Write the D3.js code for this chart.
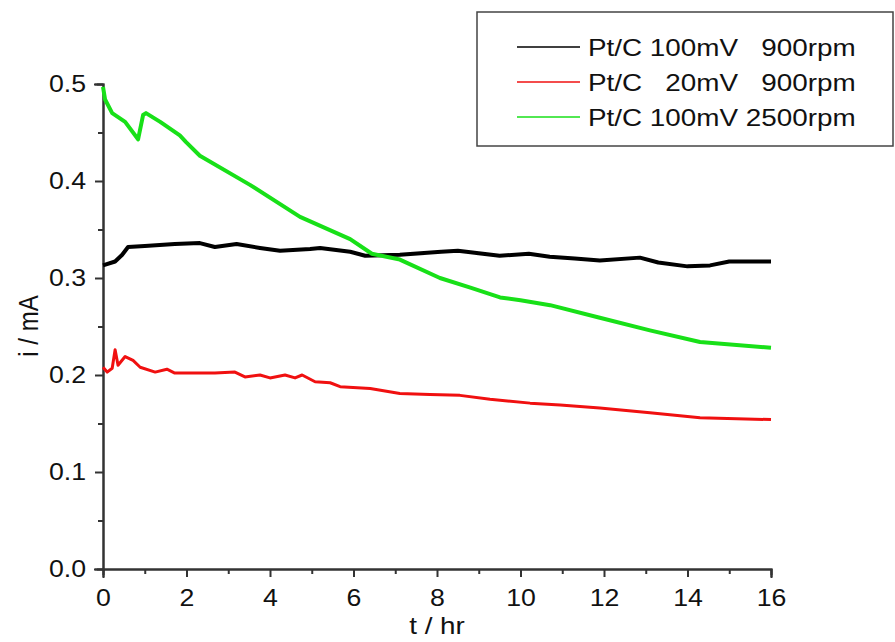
<!DOCTYPE html>
<html>
<head>
<meta charset="utf-8">
<script src="https://cdn.jsdelivr.net/npm/d3@7"></script>
<style>
	body { margin: 0; background: #fff; }
	svg { display: block; }
	text { font-family: "Liberation Sans", Arial, sans-serif; fill: #111; }
</style>
</head>
<body>
<div id="chart"></div>
<script>
// values (t in hr, i in mA)
const blackT = [0, 0.29, 0.46, 0.6, 1.0, 1.72, 2.32, 2.68, 3.2, 3.76, 4.24, 4.96, 5.2, 5.92, 6.28, 7.11, 8.1, 8.5, 9.5, 10.2, 10.7, 11.3, 11.9, 12.86, 13.3, 14.0, 14.54, 15.0, 16];
const blackI = [0.313, 0.317, 0.324, 0.332, 0.333, 0.335, 0.336, 0.332, 0.335, 0.331, 0.328, 0.33, 0.331, 0.327, 0.323, 0.324, 0.327, 0.328, 0.323, 0.325, 0.322, 0.32, 0.318, 0.321, 0.316, 0.312, 0.313, 0.317, 0.317];

const redT = [0, 0.1, 0.22, 0.29, 0.36, 0.53, 0.72, 0.89, 1.25, 1.53, 1.72, 2.68, 3.16, 3.4, 3.76, 4.0, 4.36, 4.6, 4.77, 5.08, 5.44, 5.68, 6.4, 7.11, 7.83, 8.55, 9.27, 10.23, 10.95, 11.9, 13.1, 14.3, 16];
const redI = [0.208, 0.203, 0.207, 0.226, 0.21, 0.219, 0.215, 0.208, 0.203, 0.206, 0.202, 0.202, 0.203, 0.198, 0.2, 0.197, 0.2, 0.197, 0.2, 0.193, 0.192, 0.188, 0.186, 0.181, 0.18, 0.179, 0.175, 0.171, 0.169, 0.166, 0.161, 0.156, 0.154];

const greenT = [0, 0.05, 0.22, 0.53, 0.84, 0.96, 1.03, 1.37, 1.84, 1.99, 2.32, 3.52, 4.72, 5.92, 6.44, 7.11, 8.07, 8.8, 9.51, 10.0, 10.71, 11.9, 13.1, 14.3, 16];
const greenI = [0.497, 0.484, 0.47, 0.461, 0.443, 0.468, 0.47, 0.461, 0.447, 0.44, 0.426, 0.396, 0.363, 0.34, 0.325, 0.319, 0.3, 0.29, 0.28, 0.277, 0.272, 0.259, 0.246, 0.234, 0.228];

const seriesNames = ["Pt/C 100mV   900rpm", "Pt/C   20mV   900rpm", "Pt/C 100mV 2500rpm"];
const seriesColors = ["#000000", "#f01010", "#18e018"];
const xTicks = [0, 2, 4, 6, 8, 10, 12, 14, 16];
const xMinor = [1, 3, 5, 7, 9, 11, 13, 15];
const yTicks = [0, 0.1, 0.2, 0.3, 0.4, 0.5];
const yMinor = [0.05, 0.15, 0.25, 0.35, 0.45];

const width = 895;
const height = 642;
const stretch = 1.16; // text in the picture is a bit wider than tall

const svg = d3
	.select("#chart")
	.append("svg")
	.attr("width", width)
	.attr("height", height);

const x = d3.scaleLinear().domain([0, 16]).range([103, 771]);
const y = d3.scaleLinear().domain([0, 0.5]).range([569, 84]);

// minor ticks first, then the labelled axes on top
svg.append("g")
	.attr("transform", "translate(0,569)")
	.call(d3.axisBottom(x).tickValues(xMinor).tickSize(5).tickFormat(""));
svg.append("g")
	.attr("transform", "translate(103,0)")
	.call(d3.axisLeft(y).tickValues(yMinor).tickSize(5).tickFormat(""));

const xAxis = svg
	.append("g")
	.attr("class", "x-axis")
	.attr("transform", "translate(0,569)")
	.call(d3.axisBottom(x).tickValues(xTicks).tickSize(8).tickPadding(13).tickFormat(d3.format("d")));

const yAxis = svg
	.append("g")
	.attr("class", "y-axis")
	.attr("transform", "translate(103,0)")
	.call(d3.axisLeft(y).tickValues(yTicks).tickSize(8).tickFormat(d3.format(".1f")));

svg.selectAll(".domain, .tick line")
	.attr("stroke", "#333")
	.attr("stroke-width", 2);

xAxis.selectAll("text")
	.attr("font-size", 23)
	.attr("fill", "#111")
	.attr("transform", `scale(${stretch},1)`);

yAxis.selectAll("text")
	.attr("font-size", 23)
	.attr("fill", "#111")
	.attr("x", -17 / stretch)
	.attr("transform", `scale(${stretch},1)`);

svg.selectAll(".domain").attr("stroke-linecap", "square");

// axis titles
svg.append("text")
	.attr("transform", `translate(437,634) scale(${stretch},1)`)
	.attr("text-anchor", "middle")
	.attr("font-size", 24)
	.text("t / hr");

svg.append("text")
	.attr("transform", `translate(38,326) rotate(-90) scale(1,${stretch})`)
	.attr("text-anchor", "middle")
	.attr("font-size", 24)
	.text("i / mA");

// curves
const line = d3
	.line()
	.x((d) => x(d[0]))
	.y((d) => y(d[1]));

const series = [
	d3.zip(blackT, blackI),
	d3.zip(redT, redI),
	d3.zip(greenT, greenI),
];
const widths = [4, 3, 4];

svg.append("g")
	.attr("class", "curves")
	.selectAll("path")
	.data(series)
	.enter()
	.append("path")
	.attr("d", line)
	.attr("fill", "none")
	.attr("stroke", (d, i) => seriesColors[i])
	.attr("stroke-width", (d, i) => widths[i])
	.attr("stroke-linejoin", "round");

// legend
const legend = svg.append("g").attr("class", "legend");
legend.append("rect")
	.attr("x", 477)
	.attr("y", 12)
	.attr("width", 416)
	.attr("height", 134)
	.attr("fill", "#fff")
	.attr("stroke", "#444")
	.attr("stroke-width", 1.5);

const rows = legend
	.selectAll(".row")
	.data(seriesNames)
	.enter()
	.append("g")
	.attr("class", "row")
	.attr("transform", (d, i) => `translate(0,${47 + i * 35})`);

rows.append("line")
	.attr("x1", 517)
	.attr("x2", 580)
	.attr("stroke", (d, i) => seriesColors[i])
	.attr("stroke-width", 1.5);

rows.append("text")
	.attr("transform", `translate(588,8.5) scale(${stretch},1)`)
	.attr("font-size", 24)
	.attr("xml:space", "preserve")
	.style("white-space", "pre")
	.text((d) => d);
</script>
</body>
</html>
